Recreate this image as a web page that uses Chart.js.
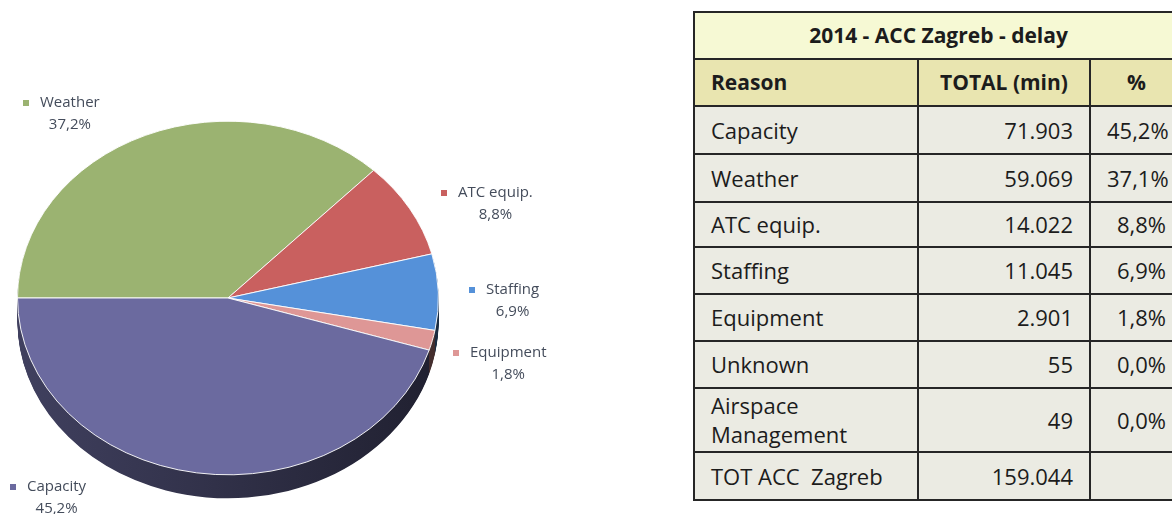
<!DOCTYPE html>
<html>
<head>
<meta charset="utf-8">
<title>2014 - ACC Zagreb - delay</title>
<script src="https://cdn.jsdelivr.net/npm/chart.js@4.4.1/dist/chart.umd.min.js"></script>
<style>
    body {
        margin: 0;
        background: #fff;
        width: 1172px;
        height: 514px;
        overflow: hidden;
        position: relative;
        font-family: "Open Sans", Lato, sans-serif;
    }
    #pieBox {
        position: absolute;
        left: 0;
        top: 0;
        width: 600px;
        height: 514px;
    }
    #delayTable {
        position: absolute;
        left: 693px;
        top: 11px;
        width: 489px;
        border-collapse: collapse;
        table-layout: fixed;
        font-size: 22px;
        color: #1c1c1c;
    }
    #delayTable td, #delayTable th {
        border: 2px solid #262626;
        padding: 0 16px;
        white-space: pre-line;
        line-height: 29px;
        overflow: hidden;
    }
    #delayTable .title th { background: #f6f9d4; text-align: center; font-size: 21px; }
    #delayTable .head th { background: #e9e5b0; font-size: 21px; }
    #delayTable .head th:first-child { text-align: left; }
    #delayTable tbody td { background: #ebebe3; }
    #delayTable td.num { text-align: right; }
</style>
</head>
<body>
<div id="pieBox"><canvas id="delayPie"></canvas></div>
<table id="delayTable">
    <colgroup><col style="width:224px"><col style="width:172px"><col style="width:93px"></colgroup>
    <thead></thead>
    <tbody></tbody>
</table>
<script>
// pie data (minutes), clockwise from 9 o'clock
const pieLabels = ["Weather", "ATC equip.", "Staffing", "Equipment", "Capacity"];
const pieMinutes = [59069, 14022, 11045, 2901, 71903];

// table data
const tableTitle = "2014 - ACC Zagreb - delay";
const tableHeaders = ["Reason", "TOTAL (min)", "%"];
const tableReasons = ["Capacity", "Weather", "ATC equip.", "Staffing", "Equipment", "Unknown", "Airspace\nManagement"];
const tableMinutes = [71903, 59069, 14022, 11045, 2901, 55, 49];
const totalLabel = "TOT ACC  Zagreb";
const totalMinutes = 159044;

// styling
const sliceColors = ["#9bb371", "#c9605f", "#5591d9", "#de9796", "#6b6a9f"];
const labelInk = "#444c5b";
const rowHeights = [47, 47, 48, 48, 45, 47, 47, 47, 64, 48];
const squash = 0.84;     // tilt of the pie
const sideDepth = 28;    // thickness of the pie wall
// where each label's text starts, relative to the pie centre
const labelSpots = [[-188, -195], [230, -105], [258, -8], [242, 55], [-201, 189]];

function fmtThousands(n) {
    return String(n).replace(/\B(?=(\d{3})+(?!\d))/g, ".");
}
function fmtPct(v, total) {
    return (v / total * 100).toFixed(1).replace(".", ",") + "%";
}
function shade(hex, f) {
    const n = parseInt(hex.slice(1), 16);
    const r = Math.round(((n >> 16) & 255) * f);
    const g = Math.round(((n >> 8) & 255) * f);
    const b = Math.round((n & 255) * f);
    return `rgb(${r}, ${g}, ${b})`;
}

// build table
function buildTable() {
    const thead = document.querySelector("#delayTable thead");
    const tbody = document.querySelector("#delayTable tbody");
    let row = 0;

    const t = document.createElement("tr");
    t.className = "title";
    t.style.height = rowHeights[row++] + "px";
    t.innerHTML = `<th colspan="3">${tableTitle}</th>`;
    thead.appendChild(t);

    const h = document.createElement("tr");
    h.className = "head";
    h.style.height = rowHeights[row++] + "px";
    h.innerHTML = tableHeaders.map(x => `<th>${x}</th>`).join("");
    thead.appendChild(h);

    tableReasons.forEach((reason, i) => {
        const tr = document.createElement("tr");
        tr.style.height = rowHeights[row++] + "px";
        tr.innerHTML = `<td>${reason}</td><td class="num">${fmtThousands(tableMinutes[i])}</td>` +
            `<td class="num">${fmtPct(tableMinutes[i], totalMinutes)}</td>`;
        tbody.appendChild(tr);
    });

    const tot = document.createElement("tr");
    tot.style.height = rowHeights[row++] + "px";
    tot.innerHTML = `<td style="white-space:pre">${totalLabel}</td><td class="num">${fmtThousands(totalMinutes)}</td><td></td>`;
    tbody.appendChild(tot);
}

// fake 3D: squash the pie and add a wall under it
const pie3d = {
    id: "pie3d",
    beforeDatasetsDraw(chart) {
        const ctx = chart.ctx;
        const arcs = chart.getDatasetMeta(0).data;
        const cy = arcs[0].y;
        ctx.save();
        ctx.translate(0, cy);
        ctx.scale(1, squash);
        ctx.translate(0, -cy);
        arcs.forEach((arc, i) => {
            const g = ctx.createLinearGradient(arc.x - arc.outerRadius, 0, arc.x + arc.outerRadius, 0);
            g.addColorStop(0, shade(sliceColors[i], 0.6));
            g.addColorStop(1, shade(sliceColors[i], 0.3));
            ctx.fillStyle = g;
            for (let d = sideDepth; d > 0; d--) {
                ctx.beginPath();
                ctx.moveTo(arc.x, arc.y + d);
                ctx.arc(arc.x, arc.y + d, arc.outerRadius, arc.startAngle, arc.endAngle);
                ctx.closePath();
                ctx.fill();
            }
        });
    },
    afterDatasetsDraw(chart) {
        const ctx = chart.ctx;
        ctx.restore();
        const arcs = chart.getDatasetMeta(0).data;
        const sum = pieMinutes.reduce((a, b) => a + b, 0);
        ctx.save();
        ctx.font = "15px 'Open Sans', Lato, sans-serif";
        ctx.textBaseline = "middle";
        arcs.forEach((arc, i) => {
            const x = arc.x + labelSpots[i][0];
            const y = arc.y + labelSpots[i][1];
            ctx.fillStyle = sliceColors[i];
            ctx.fillRect(x - 17, y - 3, 6, 6);
            ctx.fillStyle = labelInk;
            ctx.textAlign = "left";
            ctx.fillText(pieLabels[i], x, y);
            const w = ctx.measureText(pieLabels[i]).width;
            ctx.textAlign = "center";
            ctx.fillText(fmtPct(pieMinutes[i], sum), x + w / 2, y + 22);
        });
        ctx.restore();
    }
};

function initializeDelayPie() {
    const ctx = document.getElementById("delayPie").getContext("2d");
    new Chart(ctx, {
        type: "pie",
        data: {
            labels: pieLabels,
            datasets: [{
                data: pieMinutes,
                backgroundColor: sliceColors,
                borderColor: "#ffffff",
                borderWidth: 1,
                clip: false
            }]
        },
        options: {
            responsive: true,
            maintainAspectRatio: false,
            animation: false,
            rotation: -90, // start at 9 o'clock
            layout: { padding: { left: 17, right: 161, top: 87, bottom: 5 } },
            plugins: {
                legend: { display: false },
                tooltip: { enabled: false }
            }
        },
        plugins: [pie3d]
    });
}

buildTable();
initializeDelayPie();
</script>
</body>
</html>
